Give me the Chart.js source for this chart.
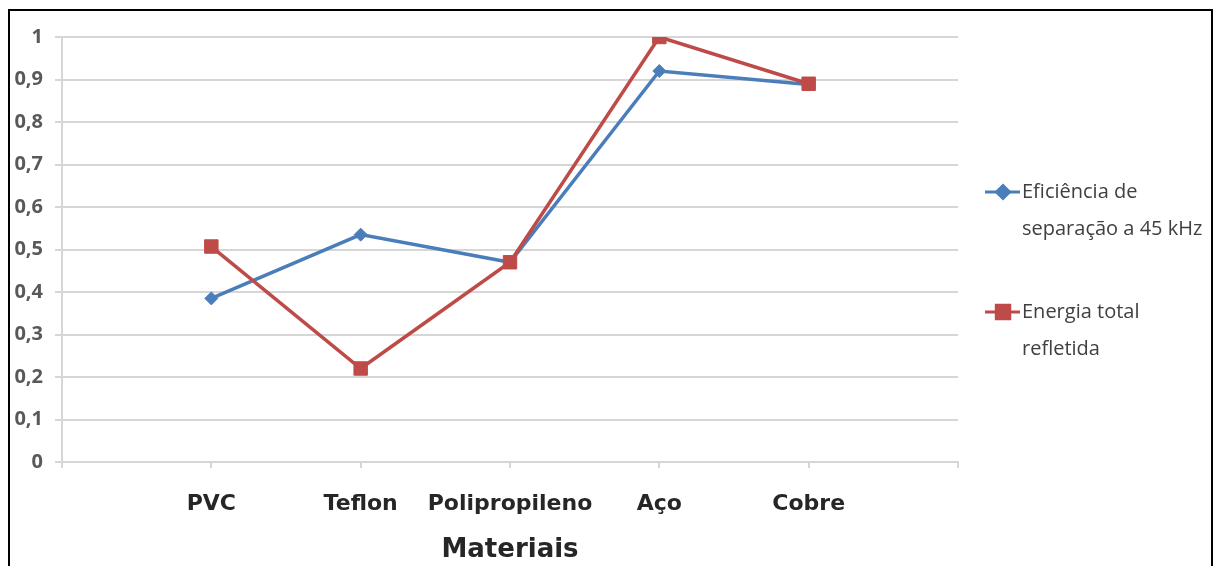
<!DOCTYPE html>
<html><head><meta charset="utf-8">
<script src="https://cdn.jsdelivr.net/npm/chart.js@4.4.1/dist/chart.umd.min.js"></script>
<style>html,body{margin:0;padding:0;background:#fff;overflow:hidden}#wrap{position:relative;width:1221px;height:566px}</style>
</head><body><div id="wrap"><canvas id="c" width="1221" height="566"></canvas></div>
<script>
const categories = ['PVC', 'Teflon', 'Polipropileno', 'Aço', 'Cobre'];
const seriesNames = ['Eficiência de separação a 45 kHz', 'Energia total refletida'];
const eficiencia = [0.385, 0.535, 0.47, 0.92, 0.888];
const energia = [0.507, 0.22, 0.47, 1.0, 0.89];
const yTickLabels = ['0', '0,1', '0,2', '0,3', '0,4', '0,5', '0,6', '0,7', '0,8', '0,9', '1'];
const xTitle = 'Materiais';

const labels = [''].concat(categories, ['']);
const pad = arr => [null].concat(arr, [null]);

const BLUE = '#4a7ebb', RED = '#be4b48', GRID = '#d6d6d6';

const frame = {
  id: 'frame',
  beforeDraw(chart) {
    const ctx = chart.ctx;
    ctx.save(); ctx.fillStyle = '#fff'; ctx.fillRect(0, 0, chart.width, chart.height); ctx.restore();
  },
  afterDraw(chart) {
    const ctx = chart.ctx;
    ctx.save();
    ctx.strokeStyle = '#000'; ctx.lineWidth = 2;
    ctx.beginPath(); ctx.moveTo(9, 570); ctx.lineTo(9, 10); ctx.lineTo(1212, 10); ctx.lineTo(1212, 570); ctx.stroke();
    // legend
    ctx.font = '20px "Open Sans"';
    ctx.textBaseline = 'middle';
    const starts = [192, 312];
    chart.data.datasets.forEach((ds, i) => {
      const y0 = starts[i];
      ctx.strokeStyle = ds.borderColor; ctx.lineWidth = 3;
      ctx.beginPath(); ctx.moveTo(985, y0); ctx.lineTo(1020, y0); ctx.stroke();
      Chart.helpers.drawPoint(ctx, {pointStyle: ds.pointStyle, radius: ds.pointRadius, borderWidth: 1, rotation: 0}, 1003, y0);
      ctx.fillStyle = ds.borderColor; ctx.fill();
      const words = ds.label.split(' ');
      const lines = []; let cur = '';
      words.forEach(w => {
        const t = cur ? cur + ' ' + w : w;
        if (ctx.measureText(t).width > 195 && cur) { lines.push(cur); cur = w; } else cur = t;
      });
      lines.push(cur);
      ctx.fillStyle = '#404040'; ctx.textAlign = 'left';
      lines.forEach((l, k) => ctx.fillText(l, 1022, y0 + k * 37));
    });
    ctx.restore();
  }
};

new Chart(document.getElementById('c'), {
  type: 'line',
  data: {
    labels: labels,
    datasets: [
      { label: seriesNames[0], data: pad(eficiencia), borderColor: BLUE, backgroundColor: BLUE,
        borderWidth: 3.5, pointStyle: 'rectRot', pointRadius: 6.5, pointBorderWidth: 1, tension: 0, order: 1 },
      { label: seriesNames[1], data: pad(energia), borderColor: RED, backgroundColor: RED,
        borderWidth: 3.5, pointStyle: 'rect', pointRadius: 9.5, pointBorderWidth: 1, tension: 0, order: 0 }
    ]
  },
  options: {
    responsive: false, animation: false, devicePixelRatio: 1,
    layout: { padding: { left: 0, top: 37, right: 263, bottom: 0 } },
    plugins: { legend: { display: false }, tooltip: { enabled: false } },
    scales: {
      x: {
        type: 'category', offset: false,
        afterFit(s) { s.height = 104; },
        grid: { display: true, drawOnChartArea: false, drawTicks: true, tickLength: 6, color: GRID, lineWidth: 2 },
        border: { display: true, color: GRID, width: 2 },
        ticks: { autoSkip: false, maxRotation: 0, padding: 23, color: '#262626',
                 font: { family: '"DejaVu Sans"', size: 22, weight: 'bold' } },
        title: { display: true, text: xTitle, color: '#262626', padding: 0,
                 font: { family: '"DejaVu Sans"', size: 26, weight: 'bold' } }
      },
      y: {
        min: 0, max: 1,
        afterFit(s) { s.width = 62; },
        grid: { color: GRID, lineWidth: 2, tickLength: 7, drawTicks: true },
        border: { display: true, color: GRID, width: 2 },
        ticks: { stepSize: 0.1, padding: 12, color: '#595959',
                 font: { family: '"Open Sans"', size: 20, weight: 'bold' },
                 callback: (v, i) => yTickLabels[i] }
      }
    }
  },
  plugins: [frame]
});
</script></body></html>
